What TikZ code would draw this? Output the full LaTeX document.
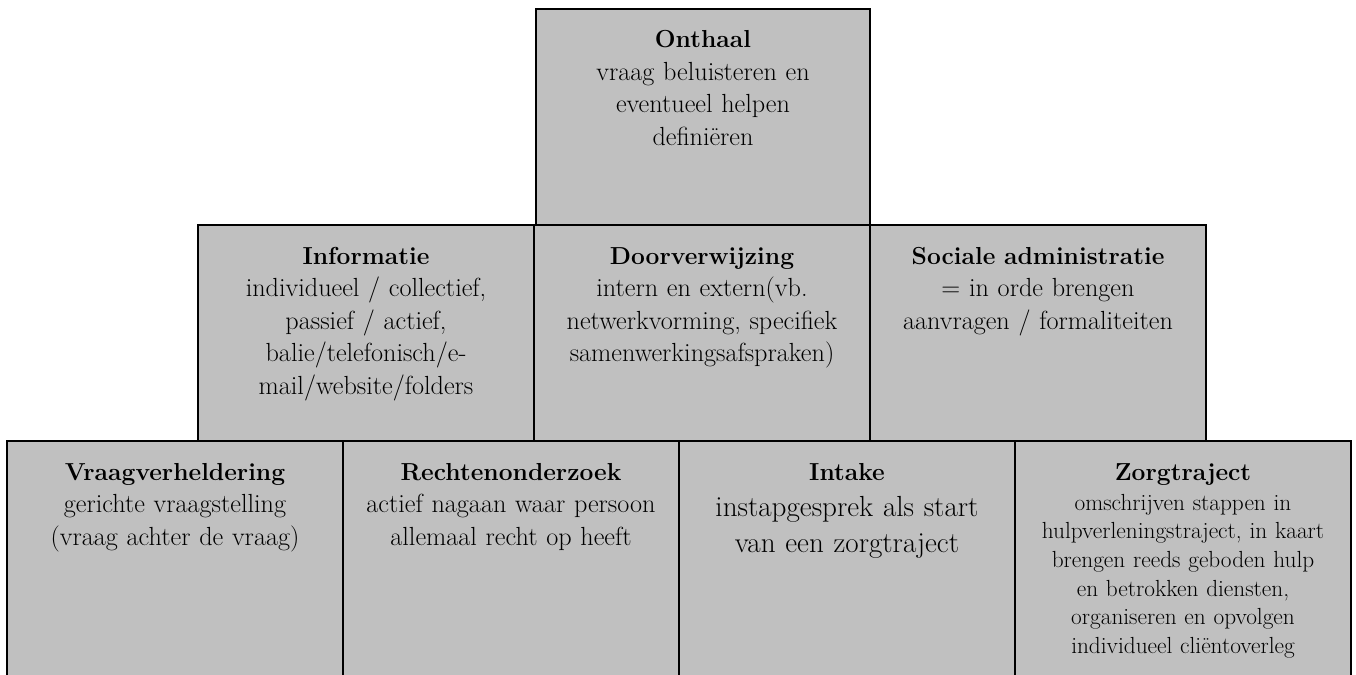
\documentclass[tikz,border=0pt]{standalone}
\usepackage{fontspec}
\usetikzlibrary{positioning}

\definecolor{boxgray}{RGB}{192,192,192}
\newcommand{\boxtitle}[1]{{\fontsize{24.6}{32.5}\selectfont\bfseries #1}}

\begin{document}
\begin{tikzpicture}[x=1pt, y=-1pt,
    taak/.style={draw=black, line width=1.5pt, fill=boxgray, anchor=north west,
        outer sep=0pt, inner xsep=4pt, inner ysep=0pt, align=center, text width=328pt,
        text height=39pt, text depth=177pt, font=\fontsize{26.2}{32.5}\selectfont},
    onderrij/.style={taak, text depth=225pt}]
    \useasboundingbox (0,0) rectangle (1356,674);
    \clip (0,0) rectangle (1356,674);

    % Top
    \node[taak, text width=326pt] (onthaal) at (536,9)
        {\boxtitle{Onthaal}\\ vraag beluisteren en\\ eventueel helpen\\ definiëren};

    % Middle row
    \node[taak] (informatie) at (198,225)
        {\boxtitle{Informatie}\\ individueel / collectief,\\ passief / actief,\\ balie/telefonisch/e-\\ mail/website/folders};
    \node[taak, right=0pt of informatie] (doorverwijzing)
        {\boxtitle{Doorverwijzing}\\ intern en extern(vb.\\ netwerkvorming, specifiek\\ samenwerkingsafspraken)};
    \node[taak, right=0pt of doorverwijzing] (sociaal)
        {\boxtitle{Sociale administratie}\\ = in orde brengen\\ aanvragen / formaliteiten};

    % Bottom row
    \node[onderrij] (vraagverheldering) at (7,441)
        {\boxtitle{Vraagverheldering}\\ gerichte vraagstelling\\ (vraag achter de vraag)};
    \node[onderrij, right=0pt of vraagverheldering] (rechten)
        {\boxtitle{Rechtenonderzoek}\\ actief nagaan waar persoon\\ allemaal recht op heeft};
    \node[onderrij, right=0pt of rechten, font=\fontsize{29.1}{36}\selectfont] (intake)
        {\boxtitle{Intake}\\ instapgesprek als start\\ van een zorgtraject};
    \node[onderrij, right=0pt of intake, font=\fontsize{23.3}{28.7}\selectfont] (zorgtraject)
        {\boxtitle{Zorgtraject}\\[1.3pt] omschrijven stappen in\\ hulpverleningstraject, in kaart\\ brengen reeds geboden hulp\\ en betrokken diensten,\\ organiseren en opvolgen\\ individueel cliëntoverleg};
\end{tikzpicture}
\end{document}
